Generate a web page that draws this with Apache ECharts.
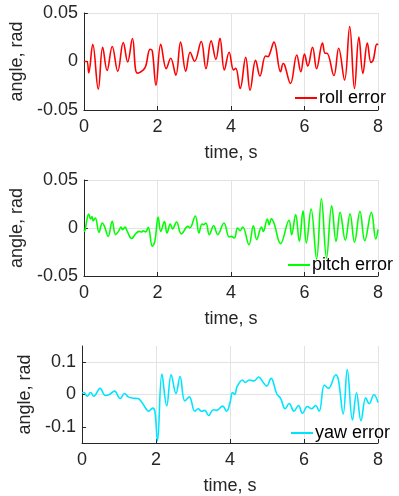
<!DOCTYPE html>
<html>
<head>
<meta charset="utf-8">
<script src="https://cdn.jsdelivr.net/npm/echarts@6/dist/echarts.min.js"></script>
<style>
  html, body { margin: 0; padding: 0; background: #fff; }
  #chart { width: 399px; height: 496px; }
</style>
</head>
<body>
<div id="chart"></div>
<script>
// time ticks (s) and y ticks (rad)
const timeTicks = [0, 2, 4, 6, 8]
const smallTicks = [-0.05, 0, 0.05]
const yawTicks = [-0.1, 0, 0.1]

// roll error
const rollT = [0, 0.08, 0.13, 0.24, 0.39, 0.51, 0.63, 0.77, 0.92, 1.07, 1.19, 1.32, 1.45, 1.61, 1.68, 1.80, 1.86, 1.96, 2.09, 2.24, 2.36, 2.50, 2.63, 2.77, 2.89, 3.01, 3.19, 3.32, 3.46, 3.59, 3.70, 3.82, 3.95, 4.07, 4.13, 4.25, 4.40, 4.52, 4.67, 4.79, 4.94, 5.01, 5.06, 5.17, 5.35, 5.42, 5.46, 5.62, 5.79, 5.90, 6.00, 6.09, 6.22, 6.33, 6.49, 6.56, 6.61, 6.80, 6.93, 7.09, 7.23, 7.36, 7.48, 7.59, 7.71, 7.81, 7.87, 7.97, 8.0]
const rollV = [0, 0, -0.0116, 0.0178, -0.0285, 0.0147, -0.0092, 0.0154, -0.0102, 0.0195, -0.0005, 0.0237, -0.012, -0.0088, -0.005, 0.0126, 0.011, -0.0244, 0.0178, -0.0074, 0.0033, -0.014, 0.02, -0.010, 0.0095, 0.0002, 0.0206, -0.0074, 0.0213, 0.0022, 0.024, -0.0088, 0.0095, -0.0088, -0.007, -0.0279, 0.0043, -0.0296, 0.0012, -0.015, 0.0057, 0.005, 0.0085, 0.02, -0.0106, -0.002, -0.0036, -0.0227, 0.0067, -0.0106, 0.0078, -0.0047, 0.0147, -0.0074, 0.0189, 0.0085, 0.0085, -0.0144, 0.0137, -0.0192, 0.0361, -0.0279, 0.0251, -0.0123, 0.0189, -0.001, 0.0016, 0.018, 0.017]

// pitch error
const pitchT = [0, 0.02, 0.05, 0.13, 0.18, 0.22, 0.25, 0.31, 0.41, 0.50, 0.56, 0.66, 0.77, 0.86, 0.94, 1.01, 1.05, 1.12, 1.17, 1.30, 1.39, 1.50, 1.57, 1.61, 1.68, 1.75, 1.86, 1.93, 2.02, 2.09, 2.19, 2.26, 2.35, 2.41, 2.52, 2.65, 2.83, 2.88, 3.03, 3.13, 3.21, 3.26, 3.32, 3.41, 3.53, 3.64, 3.81, 3.95, 4.0, 4.09, 4.18, 4.25, 4.32, 4.49, 4.61, 4.70, 4.83, 4.88, 4.99, 5.04, 5.10, 5.17, 5.35, 5.58, 5.65, 5.76, 5.86, 5.96, 6.05, 6.18, 6.33, 6.46, 6.60, 6.74, 6.86, 6.97, 7.11, 7.24, 7.36, 7.51, 7.64, 7.82, 7.94, 8.0]
const pitchV = [-0.0017, -0.0035, 0.0017, 0.0146, 0.0094, 0.012, 0.0076, 0.0104, -0.0045, 0.0052, 0.0017, -0.0087, 0.0069, -0.0069, -0.0035, 0.001, -0.0017, 0.001, -0.0028, -0.011, -0.0069, -0.0035, -0.0042, -0.0028, -0.004, 0.0007, -0.019, -0.0139, 0.0115, -0.0035, 0.0066, -0.0052, 0.0042, -0.001, 0.0062, -0.0062, 0.0017, 0, 0.0125, -0.0052, 0.0042, 0.0035, 0.0052, -0.0069, 0.0024, -0.0069, 0.0052, -0.0094, -0.0087, -0.0104, 0, -0.0028, 0.001, -0.0174, 0.0024, -0.0121, 0.001, -0.0035, 0.0094, 0.0035, 0.0097, 0.0052, -0.0163, 0.008, -0.0069, 0.0139, -0.0139, 0.018, -0.0156, 0.0198, -0.0323, 0.0305, -0.0312, 0.0232, -0.0139, 0.0163, -0.0128, 0.0149, -0.0149, 0.0174, -0.0132, 0.0163, -0.0115, -0.0017]

// yaw error
const yawT = [0, 0.05, 0.14, 0.23, 0.32, 0.49, 0.63, 0.74, 0.88, 1.03, 1.15, 1.25, 1.39, 1.51, 1.61, 1.73, 1.80, 1.91, 1.97, 2.04, 2.16, 2.29, 2.41, 2.54, 2.65, 2.78, 2.90, 3.05, 3.14, 3.23, 3.32, 3.42, 3.55, 3.64, 3.80, 3.91, 4.0, 4.07, 4.13, 4.19, 4.34, 4.41, 4.52, 4.65, 4.77, 4.90, 4.99, 5.11, 5.26, 5.37, 5.49, 5.60, 5.73, 5.85, 5.96, 6.09, 6.21, 6.31, 6.41, 6.55, 6.66, 6.86, 6.93, 7.06, 7.17, 7.31, 7.42, 7.54, 7.67, 7.76, 7.89, 8.0]
const yawV = [0.0053, 0.006, -0.0053, 0.0063, -0.0053, 0.019, -0.003, 0, 0.0105, -0.0126, 0.0032, -0.0074, -0.0116, -0.0126, -0.023, -0.044, -0.0516, -0.042, -0.0526, -0.144, 0.063, -0.035, 0.061, 0.003, 0.0558, -0.02, -0.0074, -0.0516, -0.044, -0.0516, -0.049, -0.065, -0.047, -0.049, -0.036, -0.0516, -0.025, 0.006, 0, 0.024, 0.045, 0.037, 0.045, 0.042, 0.054, 0.037, 0.026, 0.05, 0.003, -0.0126, -0.044, -0.028, -0.0516, -0.034, -0.058, -0.037, -0.044, -0.034, -0.0516, 0.0295, 0.019, 0.061, 0.045, -0.06, 0.077, -0.079, 0.0053, -0.081, -0.0105, -0.028, -0.001, -0.025]

const zip = (ts, vs) => ts.map((t, i) => [t, vs[i]])

const textColor = "#262626"
const font = "Liberation Sans"
const gridColor = "#e3e3e3"

const panels = [
  { name: "roll error", color: "#ff0000", t: rollT, v: rollV, top: 13, height: 97, min: -0.05, max: 0.05, ticks: smallTicks, legendTop: 89, legendLeft: 295 },
  { name: "pitch error", color: "#00ff00", t: pitchT, v: pitchV, top: 180, height: 96, min: -0.05, max: 0.05, ticks: smallTicks, legendTop: 256, legendLeft: 288 },
  { name: "yaw error", color: "#00e5ff", t: yawT, v: yawV, top: 346, height: 97, min: -0.15, max: 0.15, ticks: yawTicks, legendTop: 424, legendLeft: 291 },
]

const chart = echarts.init(document.getElementById("chart"))

const option = {
  animation: false,
  backgroundColor: "#fff",
  textStyle: { fontFamily: font, color: textColor },
  grid: panels.map((p) => ({ left: 82, width: 296, top: p.top, height: p.height })),
  legend: panels.map((p) => ({
    data: [p.name],
    left: p.legendLeft,
    top: p.legendTop,
    padding: 0,
    icon: "rect",
    itemWidth: 22,
    itemHeight: 2,
    textStyle: { fontSize: 18, color: "#000", fontFamily: font, padding: [0, 0, 0, -3] },
  })),
  xAxis: panels.map((p, i) => ({
    type: "value",
    gridIndex: i,
    min: 0,
    max: 8,
    interval: 2,
    name: "time, s",
    nameLocation: "middle",
    nameGap: 34,
    nameTextStyle: { fontSize: 18, color: textColor, fontFamily: font },
    axisLine: { onZero: false, lineStyle: { color: textColor, width: 1 } },
    axisTick: { inside: true, length: 4, lineStyle: { color: textColor } },
    axisLabel: { fontSize: 18, color: textColor, fontFamily: font, margin: 8 },
    splitLine: { show: true, showMinLine: false, lineStyle: { color: gridColor, width: 1 } },
  })),
  yAxis: panels.map((p, i) => ({
    type: "value",
    gridIndex: i,
    min: p.min,
    max: p.max,
    name: "angle, rad",
    nameLocation: "middle",
    nameGap: 43,
    nameTextStyle: { fontSize: 18, color: textColor, fontFamily: font },
    axisLine: { show: true, onZero: false, lineStyle: { color: textColor, width: 1 } },
    axisTick: { show: true, inside: true, length: 4, lineStyle: { color: textColor }, customValues: p.ticks },
    axisLabel: { fontSize: 18, color: textColor, fontFamily: font, margin: 6, customValues: p.ticks },
    splitLine: { show: true, showMinLine: false, lineStyle: { color: gridColor, width: 1 } },
  })),
  series: panels.map((p, i) => ({
    name: p.name,
    type: "line",
    xAxisIndex: i,
    yAxisIndex: i,
    data: zip(p.t, p.v),
    smooth: 0.4,
    symbol: "none",
    lineStyle: { color: p.color, width: 1.6 },
    itemStyle: { color: p.color },
  })),
}

chart.setOption(option)
</script>
</body>
</html>
